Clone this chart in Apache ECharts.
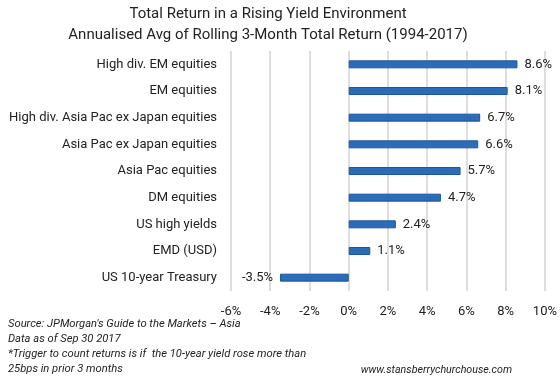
<!DOCTYPE html>
<html><head><meta charset="utf-8">
<script src="https://cdn.jsdelivr.net/npm/echarts@6/dist/echarts.min.js"></script>
<style>html,body{margin:0;padding:0;background:#fff}#c{width:560px;height:383px}</style>
</head><body><div id="c"></div>
<script>
const categories = ["High div. EM equities","EM equities","High div. Asia Pac ex Japan equities","Asia Pac ex Japan equities","Asia Pac equities","DM equities","US high yields","EMD (USD)","US 10-year Treasury"];
const values = [8.6, 8.1, 6.7, 6.6, 5.7, 4.7, 2.4, 1.1, -3.5];
const titleLines = ["Total Return in a Rising Yield Environment","Annualised Avg of Rolling 3-Month Total Return (1994-2017)"];
const notes = ["Source: JPMorgan's Guide to the Markets \u2013 Asia","Data as of Sep 30 2017","*Trigger to count returns is if  the 10-year yield rose more than","25bps in prior 3 months"];
const website = "www.stansberrychurchouse.com";

const font = "Roboto";
const chart = echarts.init(document.getElementById('c'));
const cats = categories.slice().reverse();
const vals = values.slice().reverse();
chart.setOption({
  animation: false,
  title: {
    text: titleLines.join('\n'), left: 263, textAlign: 'center', top: -1,
    textStyle: {fontFamily: font, fontSize: 15, fontWeight: 'normal', color: '#222', lineHeight: 21}
  },
  grid: {left: 231, right: 15, top: 51, bottom: 92},
  xAxis: {
    type: 'value', min: -6, max: 10, interval: 2,
    axisLine: {show: false}, axisTick: {show: false},
    axisLabel: {formatter: '{value}%', fontFamily: font, fontSize: 13, color: '#222', margin: 14},
    splitLine: {lineStyle: {color: '#d6d6d6', width: 1.6}}
  },
  yAxis: {
    type: 'category', data: cats,
    axisLine: {show: false}, axisTick: {show: false},
    axisLabel: {fontFamily: font, fontSize: 13, color: '#222', margin: 14}
  },
  series: [{
    type: 'bar', barWidth: 8,
    data: vals.map(v => ({value: v, label: {position: v < 0 ? 'left' : 'right'}})),
    itemStyle: {color: '#2a6cb9', borderColor: '#1d5699', borderWidth: 1},
    label: {show: true, formatter: p => p.value + '%', fontFamily: font, fontSize: 13, color: '#222', distance: 7}
  }],
  graphic: [
    ...notes.map((t, i) => ({
      type: 'text', left: 8, top: 319 + i * 15,
      style: {text: t, font: 'italic 11.2px Roboto', fill: '#222'}
    })),
    {type: 'text', right: 48, top: 364.5, style: {text: website, font: 'italic 10.7px Roboto', fill: '#222'}}
  ]
});
</script></body></html>
